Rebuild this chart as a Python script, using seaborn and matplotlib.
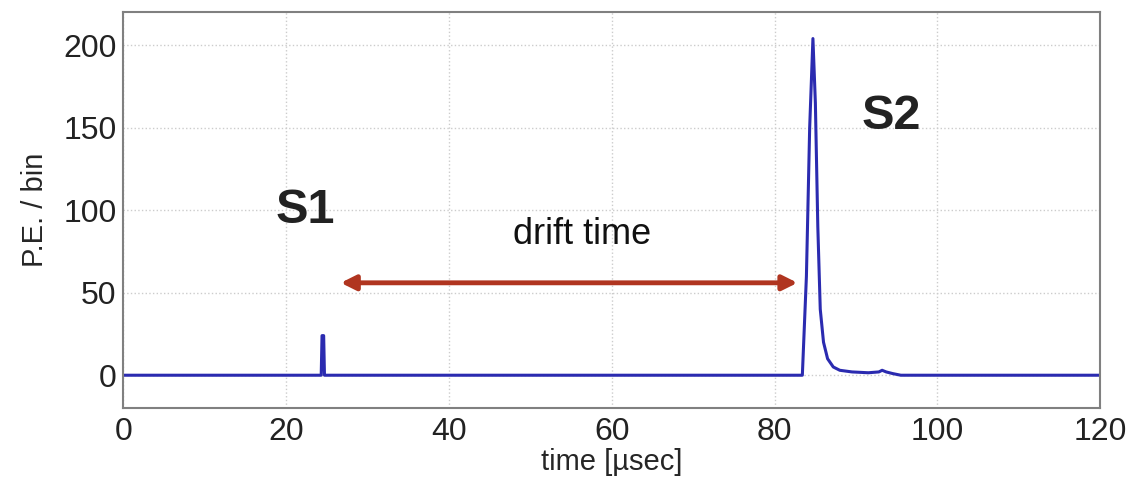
import numpy as np
import pandas as pd
import matplotlib
matplotlib.use("Agg")
import matplotlib.pyplot as plt
import seaborn as sns

# waveform (time in usec, P.E. per bin)
time_us = [0, 24.3, 24.4, 24.6, 24.7, 83.4, 83.9, 84.3, 84.7, 85.0, 85.3,
           85.6, 86.0, 86.5, 87.2, 88.0, 89.5, 91.5, 92.8, 93.2, 93.7, 94.5, 95.5, 120]
pe_bin = [0, 0, 24, 24, 0, 0, 60, 150, 204, 165, 90,
          40, 20, 10, 5, 3, 2, 1.5, 2, 3, 2, 1, 0, 0]

x_ticks = [0, 20, 40, 60, 80, 100, 120]
y_ticks = [0, 50, 100, 150, 200]

arrow_start = 26.7
arrow_end = 82.8
arrow_level = 56

df = pd.DataFrame({"time": time_us, "pe": pe_bin})

sns.set_theme(style="white")
plt.rcParams["font.family"] = ["Liberation Sans", "DejaVu Sans"]

fig, ax = plt.subplots(figsize=(11.32, 4.86), dpi=100)
fig.subplots_adjust(left=0.109, right=0.972, top=0.975, bottom=0.16)

sns.lineplot(data=df, x="time", y="pe", ax=ax, color="#2b2bb0", linewidth=2.2)

ax.set_xlim(0, 120)
ax.set_ylim(-20, 220)
ax.set_xticks(x_ticks)
ax.set_yticks(y_ticks)
ax.tick_params(axis="both", labelsize=23, length=5, direction="in", colors="#222222")
ax.tick_params(axis="x", pad=6)
ax.tick_params(axis="y", pad=5)
ax.grid(True, linestyle=":", color="#cccccc", linewidth=1)
for s in ax.spines.values():
    s.set_color("#808080")
    s.set_linewidth(1.5)

ax.set_xlabel("time [µsec]", fontsize=21, labelpad=1)
ax.set_ylabel("P.E. / bin", fontsize=21, labelpad=10)

ax.annotate("", xy=(arrow_start, arrow_level), xytext=(arrow_end, arrow_level),
            arrowprops=dict(arrowstyle="<|-|>", color="#b03520", lw=3.5,
                            mutation_scale=22, shrinkA=0, shrinkB=0))
ax.text(56.4, 85, "drift time", fontsize=26, ha="center", va="center", color="#111111")
ax.text(22.3, 100, "S1", fontsize=35, fontweight="bold", ha="center", va="center", color="#222222")
ax.text(94.3, 157, "S2", fontsize=35, fontweight="bold", ha="center", va="center", color="#222222")

fig.savefig("out.png", dpi=100)
